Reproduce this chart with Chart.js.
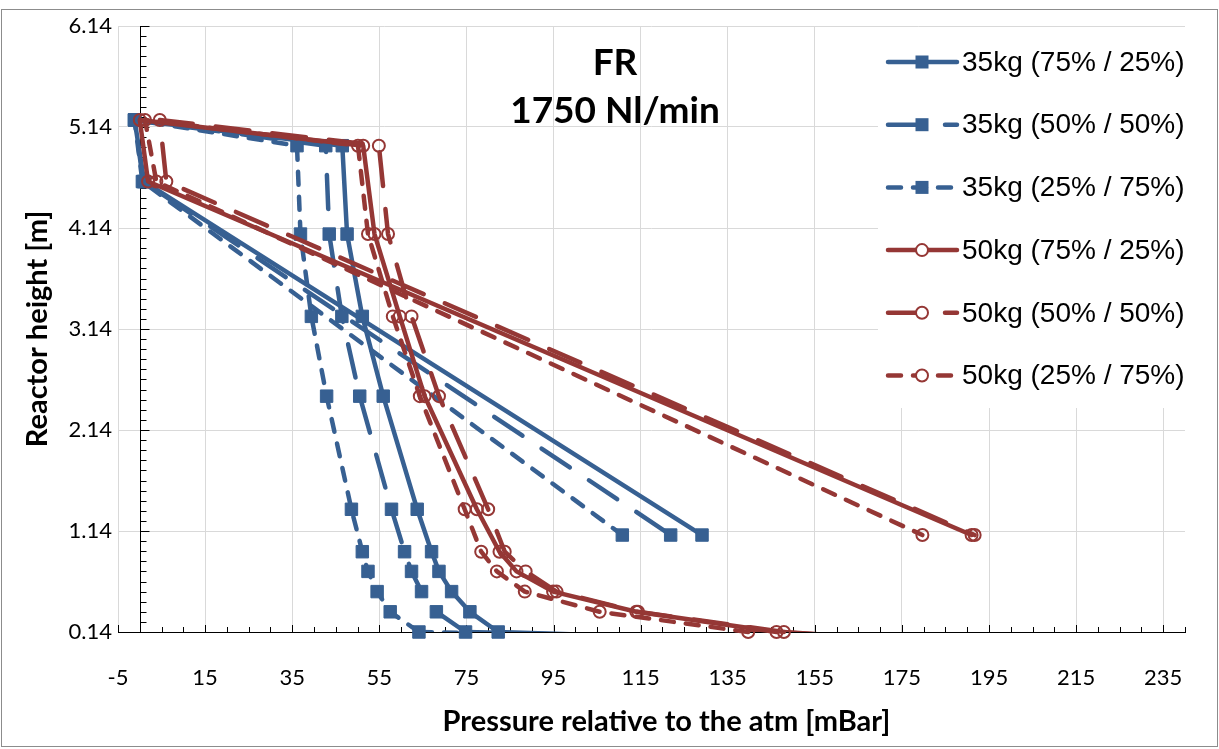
<!DOCTYPE html>
<html>
<head>
<meta charset="utf-8">
<title>FR 1750 Nl/min</title>
<script src="https://cdn.jsdelivr.net/npm/chart.js@4.4.1/dist/chart.umd.min.js"></script>
<style>
  html, body { margin: 0; padding: 0; background: #fff; }
  #wrap { width: 1219px; height: 749px; }
</style>
</head>
<body>
<div id="wrap"><canvas id="pressure-chart" width="1219" height="749"></canvas></div>
<script>
// Heights of the pressure taps along the loop [m]:
// riser bottom -> top, cyclone inlet, standpipe top, loop seal
const heights = [0.14, 0.34, 0.54, 0.74, 0.935, 1.355, 2.475, 3.265, 4.08, 4.955, 5.21, 4.60, 1.10];

const seriesLabels = [
  '35kg (75% / 25%)',
  '35kg (50% / 50%)',
  '35kg (25% / 75%)',
  '50kg (75% / 25%)',
  '50kg (50% / 50%)',
  '50kg (25% / 75%)'
];

// pressure relative to atm [mBar], one value per tap height
const p35_75 = [82.3, 75.8, 71.6, 68.7, 67.0, 63.7, 55.9, 51.1, 47.6, 46.5, -1.2, 1.0, 129.1];
const p35_50 = [74.8, 68.1, 64.7, 62.4, 60.8, 57.8, 50.5, 46.4, 43.5, 42.7, -1.2, 0.8, 121.9];
const p35_25 = [64.1, 57.5, 54.5, 52.4, 51.1, 48.6, 42.9, 39.4, 36.9, 36.1, -1.2, 0.6, 110.8];
const p50_75 = [146.2, 114.0, 94.9, 86.5, 82.6, 77.4, 65.4, 59.7, 53.9, 51.3, 0.0, 1.9, 191.0];
const p50_50 = [147.9, 114.4, 95.7, 88.6, 83.8, 80.0, 68.7, 62.4, 57.0, 54.9, 4.6, 6.1, 191.7];
const p50_25 = [139.7, 105.6, 88.4, 82.0, 78.4, 74.6, 64.3, 58.1, 52.4, 50.1, 1.2, 3.8, 179.7];

// distributor plenum reading, just below the visible axis range
const tailHeight = 0.10;
const tailPressure = [112, 112, 112, 162, 162, 162];

const xTickValues = [-5, 15, 35, 55, 75, 95, 115, 135, 155, 175, 195, 215, 235];
const yTickValues = [0.14, 1.14, 2.14, 3.14, 4.14, 5.14, 6.14];

const titleLines = ['FR', '1750 Nl/min'];
const xAxisTitle = 'Pressure relative to the atm [mBar]';

const BLUE = '#376092';
const RED = '#953735';
const LINE_W = 4.5;
const dashStyles = [[], [34, 23], [13, 12]];

const seriesPressures = [p35_75, p35_50, p35_25, p50_75, p50_50, p50_25];

const datasets = [];
seriesPressures.forEach((pressures, i) => {
  const isBlue = i < 3;
  const color = isBlue ? BLUE : RED;
  const common = {
    borderColor: color,
    borderWidth: LINE_W,
    borderDash: dashStyles[i % 3],
    borderCapStyle: 'round',
    borderJoinStyle: 'round',
    showLine: true,
    tension: 0
  };
  datasets.push(Object.assign({}, common, {
    label: seriesLabels[i],
    data: pressures.map((p, k) => ({ x: p, y: heights[k] })),
    pointStyle: isBlue ? 'rect' : 'circle',
    pointRadius: isBlue ? 8.8 : 6,
    pointHoverRadius: isBlue ? 8.8 : 6,
    pointBorderWidth: isBlue ? 1 : 2,
    pointBackgroundColor: isBlue ? BLUE : 'rgba(0,0,0,0)',
    pointBorderColor: color,
    clip: false,
    order: 20 - i
  }));
  // short stub down to the plenum point, clipped at the axis
  datasets.push(Object.assign({}, common, {
    label: '',
    data: [{ x: pressures[0], y: heights[0] }, { x: tailPressure[i], y: tailHeight }],
    pointRadius: 0,
    clip: 0,
    order: 20.5 - i
  }));
});

const loopDecor = {
  id: 'loopDecor',
  beforeDraw(chart) {
    const { ctx, width, height } = chart;
    ctx.save();
    ctx.fillStyle = '#fff';
    ctx.fillRect(0, 0, width, height);
    ctx.strokeStyle = '#8c8c8c';
    ctx.lineWidth = 1;
    ctx.strokeRect(1.5, 9.5, width - 3, height - 12);
    ctx.restore();
  },
  beforeDatasetsDraw(chart) {
    // vertical axis crosses at 0 mBar, tick marks point into the plot
    const { ctx, chartArea: a } = chart;
    const xs = chart.scales.x, ys = chart.scales.y;
    const x0 = Math.round(xs.getPixelForValue(0)) + 0.5;
    ctx.save();
    ctx.strokeStyle = '#000';
    ctx.lineWidth = 1;
    ctx.beginPath();
    ctx.moveTo(x0, a.top);
    ctx.lineTo(x0, a.bottom);
    for (let k = 0; k <= 60; k++) {
      const py = Math.round(ys.getPixelForValue(0.14 + k * 0.1)) + 0.5;
      ctx.moveTo(x0, py);
      ctx.lineTo(x0 + (k % 10 === 0 ? 9 : 6), py);
    }
    for (let k = 0; k <= 49; k++) {
      const v = -5 + k * 5;
      const px = Math.round(xs.getPixelForValue(v)) + 0.5;
      ctx.moveTo(px, a.bottom);
      ctx.lineTo(px, a.bottom - (k % 4 === 0 ? 7 : 5));
    }
    ctx.stroke();
    ctx.restore();
  },
  afterDatasetsDraw(chart) {
    const { ctx, chartArea: a } = chart;
    ctx.save();

    // title inside the plot
    ctx.fillStyle = '#000';
    ctx.textAlign = 'center';
    ctx.textBaseline = 'middle';
    ctx.font = 'bold 37px Lato';
    ctx.fillText(titleLines[0], 615, 63);
    ctx.fillText(titleLines[1], 615, 111);

    // x axis title, sits a little right of the plot centre
    ctx.font = 'bold 29px Lato';
    ctx.fillText(xAxisTitle, (a.left + a.right) / 2 + 15, 722);

    // legend box, top right of the plot
    ctx.fillStyle = '#fff';
    ctx.fillRect(878, a.top + 1, a.right - 878, 407 - a.top);
    const mains = chart.data.datasets.filter(d => d.label);
    mains.forEach((d, i) => {
      const yRow = 62 + i * 62.7;
      ctx.save();
      ctx.strokeStyle = d.borderColor;
      ctx.lineWidth = LINE_W;
      ctx.lineCap = 'round';
      ctx.setLineDash(d.borderDash);
      ctx.beginPath();
      ctx.moveTo(888, yRow);
      ctx.lineTo(957, yRow);
      ctx.stroke();
      ctx.setLineDash([]);
      const mx = 922;
      if (d.pointStyle === 'rect') {
        ctx.fillStyle = d.pointBackgroundColor;
        ctx.fillRect(mx - 6.5, yRow - 6.5, 13, 13);
      } else {
        ctx.fillStyle = '#fff';
        ctx.lineWidth = 2;
        ctx.beginPath();
        ctx.arc(mx, yRow, 6, 0, Math.PI * 2);
        ctx.fill();
        ctx.stroke();
      }
      ctx.restore();
      ctx.fillStyle = '#000';
      ctx.textAlign = 'left';
      ctx.textBaseline = 'middle';
      ctx.font = '28px "Liberation Sans", Arial, sans-serif';
      ctx.fillText(d.label, 962, yRow + 1);
    });
    ctx.restore();
  }
};

const tickFont = { family: 'Lato', size: 22 };
const axisTitleFont = { family: 'Lato', size: 29, weight: 'bold' };

new Chart(document.getElementById('pressure-chart'), {
  type: 'scatter',
  data: { datasets: datasets },
  options: {
    responsive: false,
    animation: false,
    layout: { padding: { left: 0, top: 26, right: 34, bottom: 0 } },
    plugins: {
      legend: { display: false },
      tooltip: { enabled: false }
    },
    scales: {
      x: {
        type: 'linear',
        min: -5,
        max: 240,
        afterBuildTicks: s => { s.ticks = xTickValues.map(v => ({ value: v })); },
        afterFit: s => { s.height = 117; },
        ticks: { color: '#000', font: tickFont, padding: 33, maxRotation: 0, autoSkip: false },
        grid: { color: '#d9d9d9', lineWidth: 1, drawTicks: false },
        border: { display: true, color: '#000', width: 1 },
        title: { display: false }
      },
      y: {
        type: 'linear',
        min: 0.14,
        max: 6.14,
        afterBuildTicks: s => { s.ticks = yTickValues.map(v => ({ value: v })); },
        afterFit: s => { s.width = 118; },
        ticks: { color: '#000', font: tickFont, padding: 6, callback: v => v.toFixed(2) },
        grid: { color: '#d9d9d9', lineWidth: 1, drawTicks: false },
        border: { display: false },
        title: {
          display: true,
          text: 'Reactor height [m]',
          color: '#000',
          font: axisTitleFont,
          padding: { top: 20, bottom: 0 }
        }
      }
    }
  },
  plugins: [loopDecor]
});
</script>
</body>
</html>
